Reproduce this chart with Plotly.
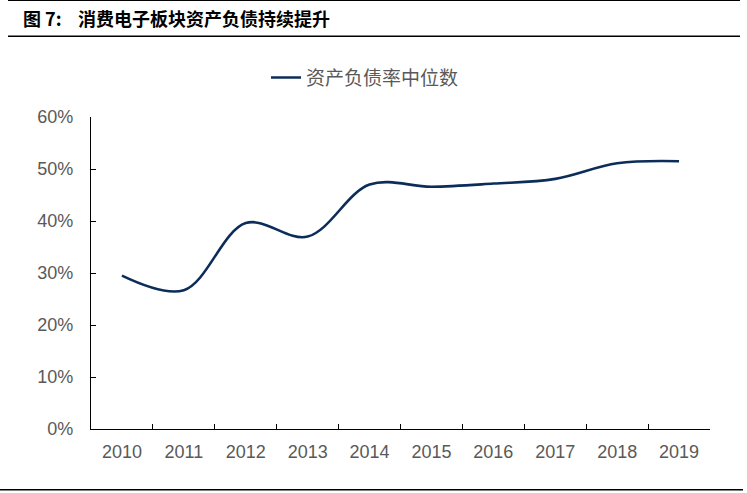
import plotly.graph_objects as go

years = ["2010", "2011", "2012", "2013", "2014", "2015", "2016", "2017", "2018", "2019"]
debt_ratio_median = [0.295, 0.267, 0.396, 0.370, 0.470, 0.466, 0.472, 0.481, 0.511, 0.515]
series_name = "资产负债率中位数"
title_text = "图 7:    消费电子板块资产负债持续提升"

W, H = 747, 493
L, R, T, B = 91, 710, 117.3, 429.3

def px_x(p):
    return (p - L) / (R - L)

def px_y(p):
    return (B - p) / (B - T)

fig = go.Figure()
fig.add_trace(go.Scatter(
    x=years, y=debt_ratio_median, mode="lines", name=series_name,
    line=dict(color="#0c2d5a", width=2.6, shape="spline", smoothing=1.0),
))

shapes = []
for y0, x0, x1, w in [(0.8, 8, 740, 1.2), (36.5, 8, 740, 1.6), (490, 0, 743, 1.6)]:
    shapes.append(dict(type="line", xref="paper", yref="paper",
                       x0=px_x(x0), x1=px_x(x1), y0=px_y(y0), y1=px_y(y0),
                       line=dict(color="#000000", width=w)))

fig.update_layout(
    width=W, height=H,
    margin=dict(l=L, r=W - R, t=T, b=H - B, pad=0),
    paper_bgcolor="white", plot_bgcolor="white",
    showlegend=True,
    legend=dict(x=px_x(266), y=px_y(78), xanchor="left", yanchor="middle",
                orientation="h", bgcolor="rgba(0,0,0,0)",
                font=dict(family="Noto Sans CJK SC", size=19, color="#595959")),
    shapes=shapes,
    annotations=[dict(text="<b>" + title_text + "</b>", xref="paper", yref="paper",
                      x=px_x(21), y=px_y(18), xanchor="left", yanchor="middle",
                      showarrow=False,
                      font=dict(family="Noto Sans CJK SC", size=18, color="#000000"))],
    xaxis=dict(type="category", range=[-0.5, 9.5], tickson="boundaries",
               ticks="inside", ticklen=5, tickcolor="#000000", tickwidth=1.2,
               showline=True, linecolor="#000000", linewidth=1.4,
               showgrid=False, zeroline=False,
               tickfont=dict(family="Liberation Sans, Arial", size=18, color="#595959"),
               ticklabelstandoff=6),
    yaxis=dict(range=[0, 0.6], tickvals=[0, 0.1, 0.2, 0.3, 0.4, 0.5, 0.6],
               tickformat=".0%", ticks="inside", ticklen=5, tickcolor="#000000",
               tickwidth=1.2, showline=True, linecolor="#000000", linewidth=1.4,
               showgrid=False, zeroline=False,
               tickfont=dict(family="Liberation Sans, Arial", size=18, color="#595959"),
               ticklabelstandoff=13),
)

fig.write_html("out.html", config={"displayModeBar": False},
               post_script="document.body.style.margin='0';document.body.style.padding='0';")
